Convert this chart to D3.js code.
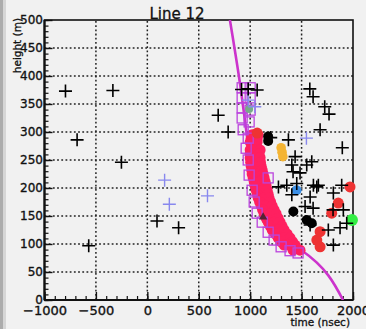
<!DOCTYPE html>
<html>
<head>
<meta charset="utf-8">
<script src="https://cdn.jsdelivr.net/npm/d3@7"></script>
<style>
  html, body { margin: 0; padding: 0; background: #f1f1f1; }
  svg { display: block; }
  text { font-family: "DejaVu Sans", sans-serif; fill: #111; }
</style>
</head>
<body>
<script>
// ---- data (time in nsec, height in m) ----
const titleText = "Line 12";
const xLabel = "time (nsec)";
const yLabel = "height (m)";
const xTicks = [-1000, -500, 0, 500, 1000, 1500, 2000];
const yTicks = [0, 50, 100, 150, 200, 250, 300, 350, 400, 450, 500];

// fitted front curve
const fitLine = [[803, 500], [903, 384], [961, 304], [1000, 250], [1058, 196],
  [1136, 157], [1243, 125], [1369, 104], [1505, 88], [1903, 0]];

// hits flagged as noise
const blackCrosses = [[-796, 373], [-335, 374], [-683, 286], [-252, 246], [-570, 97],
  [94, 141], [304, 129], [689, 330], [786, 300], [916, 376], [981, 377], [1068, 375],
  [1580, 377], [1612, 363], [1725, 345], [1767, 332], [1680, 304], [1896, 272],
  [1372, 286], [1437, 256], [1599, 247], [1405, 241], [1550, 241], [1485, 227],
  [1453, 208], [1275, 202], [1648, 202], [1405, 188], [1583, 184], [1356, 205],
  [1615, 205], [1663, 205], [1809, 191], [1890, 205], [1612, 164], [1534, 167],
  [1806, 161], [1906, 161], [1874, 129], [1760, 125], [1583, 134], [1809, 98],
  [1939, 137], [1417, 229], [1200, 290]];
const blueCrosses = [[168, 214], [214, 171], [585, 186], [1547, 289], [981, 357], [1045, 345]];

// hits used in the fit
const fitSquares = [[922, 379], [1000, 379], [922, 361], [1000, 361], [922, 343],
  [1000, 339], [922, 325], [990, 318], [932, 304], [981, 289], [961, 271], [981, 250],
  [990, 223], [1019, 196], [1039, 175], [1068, 155], [1117, 139], [1175, 121],
  [1233, 107], [1301, 95], [1388, 88], [1466, 84], [1175, 218]];

const pinkHits = [[1019, 295], [1048, 295], [1078, 295], [1010, 288], [1068, 288],
  [1000, 282], [1034, 282], [1068, 282], [1000, 268], [1048, 268], [1097, 268],
  [1000, 261], [1087, 261], [1000, 254], [1048, 254], [1097, 254], [1005, 246],
  [1100, 246], [1010, 239], [1058, 239], [1107, 239], [1015, 232], [1117, 232],
  [1019, 225], [1072, 225], [1126, 225], [1029, 218], [1136, 218], [1039, 211],
  [1092, 211], [1146, 211], [1048, 204], [1155, 204], [1058, 196], [1111, 196],
  [1165, 196], [1068, 189], [1175, 189], [1078, 182], [1131, 182], [1184, 182],
  [1092, 175], [1199, 175], [1107, 168], [1160, 168], [1214, 168], [1121, 161],
  [1233, 161], [1136, 154], [1194, 154], [1252, 154], [1155, 146], [1272, 146],
  [1175, 139], [1233, 139], [1291, 139], [1194, 132], [1310, 132], [1214, 125],
  [1272, 125], [1330, 125], [1243, 118], [1359, 118], [1272, 111], [1330, 111],
  [1388, 111], [1301, 104], [1412, 104], [1330, 98], [1383, 98], [1437, 98],
  [1417, 89], [1485, 89]];
const redHits = [[1068, 298], [1971, 202], [1857, 173], [1793, 155], [1680, 122],
  [1648, 107], [1680, 95]];
const blackHits = [[1175, 292], [1175, 284], [1420, 158], [1550, 143], [1599, 137]];
const orangeHits = [[1301, 272], [1310, 264], [1318, 256]];
const blueHits = [[1451, 196]];
const greenHits = [[1990, 143]];
const paleGreenHits = [[990, 341]];
const triangleHits = [[1126, 148]];

// ---- layout ----
const W = 366, H = 329;
const x = d3.scaleLinear().domain([-1000, 2000]).range([44.5, 353]);
const y = d3.scaleLinear().domain([0, 500]).range([300, 20]);

const svg = d3.select("body").append("svg").attr("width", W).attr("height", H);

// left window edge
svg.append("rect").attr("x", 0).attr("y", 0).attr("width", 6).attr("height", H).attr("fill", "#d6d6d6");
svg.append("rect").attr("x", 0).attr("y", 0).attr("width", 3).attr("height", H).attr("fill", "#acacac");

// dotted grid
const grid = svg.append("g").attr("stroke", "#222").attr("stroke-width", 1.5)
  .attr("stroke-dasharray", "1.8,2.4");
grid.selectAll("line.gx").data(xTicks.slice(1, -1)).join("line")
  .attr("x1", d => x(d)).attr("x2", d => x(d)).attr("y1", y(0)).attr("y2", y(500));
grid.selectAll("line.gy").data(yTicks.slice(1, -1)).join("line")
  .attr("x1", x(-1000)).attr("x2", x(2000)).attr("y1", d => y(d)).attr("y2", d => y(d));

// axes: minor ticks then labelled major ticks
const xMinor = d3.range(-1000, 2001, 100);
const yMinor = d3.range(0, 501, 10);
const labelStyle = g => g.selectAll("text").attr("font-family", "DejaVu Sans")
  .attr("fill", "#111").attr("stroke", "#111").attr("stroke-width", 0.35);
svg.append("g").attr("transform", `translate(0,${y(0)})`)
  .call(d3.axisBottom(x).tickValues(xMinor).tickSizeInner(-4).tickSizeOuter(0).tickFormat(""))
  .call(g => g.select(".domain").remove())
  .call(g => g.selectAll("line").attr("stroke", "#111").attr("stroke-width", 1.2));
svg.append("g").attr("transform", `translate(0,${y(0)})`)
  .call(d3.axisBottom(x).tickValues(xTicks).tickSizeInner(-8).tickSizeOuter(0).tickPadding(6).tickFormat(d3.format("d")))
  .call(g => g.select(".domain").remove())
  .call(g => g.selectAll("line").attr("stroke", "#111").attr("stroke-width", 1.4))
  .call(labelStyle)
  .call(g => g.selectAll("text").attr("font-size", 13));
svg.append("g").attr("transform", `translate(${x(-1000)},0)`)
  .call(d3.axisLeft(y).tickValues(yMinor).tickSizeInner(-4).tickSizeOuter(0).tickFormat(""))
  .call(g => g.select(".domain").remove())
  .call(g => g.selectAll("line").attr("stroke", "#111").attr("stroke-width", 1.2));
svg.append("g").attr("transform", `translate(${x(-1000)},0)`)
  .call(d3.axisLeft(y).tickValues(yTicks).tickSizeInner(-8).tickSizeOuter(0).tickPadding(1.5).tickFormat(d3.format("d")))
  .call(g => g.select(".domain").remove())
  .call(g => g.selectAll("line").attr("stroke", "#111").attr("stroke-width", 1.4))
  .call(labelStyle)
  .call(g => g.selectAll("text").attr("font-size", 12));

// frame
svg.append("rect").attr("x", x(-1000)).attr("y", y(500))
  .attr("width", x(2000) - x(-1000)).attr("height", y(0) - y(500))
  .attr("fill", "none").attr("stroke", "#111").attr("stroke-width", 1.6);
svg.append("line").attr("x1", x(-1000)).attr("x2", x(-1000)).attr("y1", y(500)).attr("y2", y(0))
  .attr("stroke", "#111").attr("stroke-width", 2.2);
svg.append("line").attr("x1", x(-1000)).attr("x2", x(2000)).attr("y1", y(0)).attr("y2", y(0))
  .attr("stroke", "#111").attr("stroke-width", 2.2);

// clip for the curve
svg.append("clipPath").attr("id", "plotArea").append("rect")
  .attr("x", x(-1000)).attr("y", y(500)).attr("width", x(2000) - x(-1000)).attr("height", y(0) - y(500));

svg.append("path").datum(fitLine)
  .attr("clip-path", "url(#plotArea)")
  .attr("d", d3.line().x(d => x(d[0])).y(d => y(d[1])).curve(d3.curveMonotoneY))
  .attr("fill", "none").attr("stroke", "#cc33cc").attr("stroke-width", 2.6);

function circles(data, r, color) {
  svg.append("g").selectAll("circle").data(data).join("circle")
    .attr("cx", d => x(d[0])).attr("cy", d => y(d[1])).attr("r", r).attr("fill", color);
}
function crosses(data, size, color, width) {
  const g = svg.append("g").attr("stroke", color).attr("stroke-width", width);
  g.selectAll("path").data(data).join("path")
    .attr("d", d => `M${x(d[0]) - size / 2},${y(d[1])}h${size}M${x(d[0])},${y(d[1]) - size / 2}v${size}`);
}

circles(pinkHits, 5.5, "#ff2060");
svg.append("g").selectAll("rect").data(fitSquares).join("rect")
  .attr("x", d => x(d[0]) - 5).attr("y", d => y(d[1]) - 5).attr("width", 10).attr("height", 10)
  .attr("fill", "none").attr("stroke", "#bb44dd").attr("stroke-width", 1.3);
circles(redHits, 5.5, "#ee3333");
circles(orangeHits, 4.8, "#f4b433");
circles(blueHits, 5, "#3b8fe6");
circles(blackHits, 5, "#000");
circles(greenHits, 6, "#33ee44");
circles(paleGreenHits, 4, "#77aa88");
svg.append("g").selectAll("path").data(triangleHits).join("path")
  .attr("d", d => d3.symbol(d3.symbolTriangle, 30)())
  .attr("transform", d => `translate(${x(d[0])},${y(d[1])})`).attr("fill", "#552233");
crosses(blueCrosses, 13, "#8888ee", 1.4);
crosses(blackCrosses, 13, "#000", 1.6);

// titles
const titleStyle = t => t.attr("stroke", "#111").attr("stroke-width", 0.3);
svg.append("text").attr("x", 177).attr("y", 19).attr("text-anchor", "middle")
  .attr("font-size", 15).text(titleText).call(titleStyle);
svg.append("text").attr("x", 350).attr("y", 326).attr("text-anchor", "end")
  .attr("font-size", 10.5).text(xLabel).call(titleStyle);
svg.append("text").attr("transform", "translate(21,18) rotate(-90)").attr("text-anchor", "end")
  .attr("font-size", 10.5).text(yLabel).call(titleStyle);
</script>
</body>
</html>
